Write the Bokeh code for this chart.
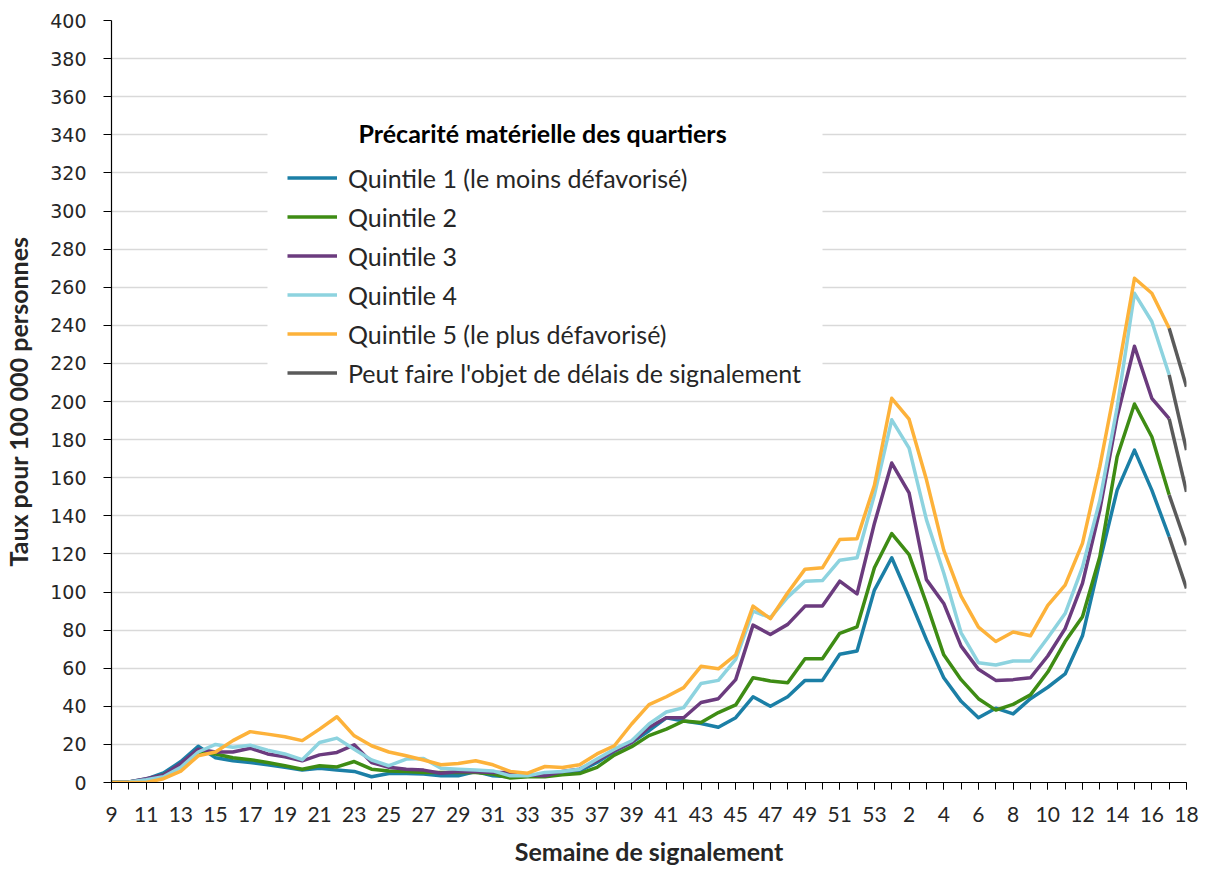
from bokeh.plotting import figure
from bokeh.models import Range1d, FixedTicker, Legend, LegendItem, Label, BoxAnnotation
from bokeh.embed import file_html
from bokeh.resources import INLINE

# ---- data -------------------------------------------------------------
weeks = [str(w) for w in range(9, 54)] + [str(w) for w in range(1, 19)]

q1 = [0, 0.3, 1.8, 5, 11, 19, 13, 11.4, 10.5, 9.3, 8, 6.5, 7.5, 6.5, 5.8, 3,
      4.7, 4.7, 4.4, 3.5, 3.5, 5.8, 3.5, 3, 3.5, 4, 4.9, 6.1, 10.5, 16.3, 21,
      27.2, 34, 32.3, 31, 29, 34, 45, 40, 45, 53.6, 53.6, 67.3, 69, 101,
      118, 97, 75, 55, 42.6, 34, 39, 36, 44, 50, 57, 77, 116, 153.5, 174.5,
      153.5, 129, 101.9]
q2 = [0, 0.3, 1.5, 4, 9, 16, 15, 13, 12, 10.5, 8.8, 7, 8.8, 8.2, 11, 7,
      6, 5.8, 5.3, 5.3, 5.3, 5.3, 4.4, 2.3, 3, 3, 4, 4.7, 7.9, 14.4, 18.8,
      24.6, 28, 32.3, 31.5, 36.7, 40.7, 55, 53.3, 52.4, 65, 65, 78.3, 81.7,
      112.7, 130.7, 119.6, 94, 67, 54, 44, 38, 41, 46, 58, 74, 87, 118.5,
      171, 198.7, 181.5, 151, 124.6]
q3 = [0, 0.3, 2, 4, 10, 17.5, 16, 16, 18, 15, 13.5, 11.4, 14.5, 15.8, 19.8,
      10.5, 8, 7, 6.5, 4.9, 5.8, 5.6, 5.3, 5.3, 3.9, 3.5, 5.8, 7, 11.4, 16.7,
      21, 29, 34, 34, 42, 44, 54, 82.6, 77.7, 83, 92.6, 92.6, 105.7, 99, 136,
      167.7, 152, 106.5, 94, 71.6, 59.4, 53.6, 54, 55, 66.4, 80.8, 104.5,
      143, 192, 229, 201.7, 191, 152.6]
q4 = [0, 0.3, 1.5, 3, 8, 16, 20, 18.5, 19.6, 17, 15, 12, 21, 23.3, 17.5,
      11.8, 8.8, 12.3, 12.6, 7.5, 7, 6.5, 6.1, 3.5, 3.5, 5.3, 5.8, 7, 12.3,
      17.5, 21.9, 30.7, 37, 39.3, 52, 53.6, 64.6, 90, 86.5, 97.3, 105.7, 106,
      116.7, 118, 151, 190.4, 175.5, 138, 110, 78.6, 62.9, 61.7, 63.8, 63.8,
      76, 88.7, 113, 148, 197, 256.8, 242, 214, 174.5]
q5 = [0, 0, 0, 2, 6, 14, 16, 22, 26.7, 25.4, 24, 22, 28, 34.5, 24.5, 19.3,
      16, 14, 11.8, 9.3, 10, 11.4, 9.3, 5.8, 4.9, 8.4, 7.9, 9.3, 15, 19.3,
      30.7, 40.9, 45, 49.8, 61, 59.7, 67, 92.6, 86, 99.6, 112, 112.7, 127.5,
      128, 156, 201.7, 190.7, 159, 122, 97.8, 81.6, 74, 79, 77, 93, 103.6,
      125.5, 165.8, 213, 264.7, 256.8, 238.5, 207.8]

series_names = ["Quintile 1 (le moins défavorisé)", "Quintile 2", "Quintile 3",
                "Quintile 4", "Quintile 5 (le plus défavorisé)"]
delay_name = "Peut faire l'objet de délais de signalement"
legend_title = "Précarité matérielle des quartiers"
x_title = "Semaine de signalement"
y_title = "Taux pour 100 000 personnes"
y_ticks = list(range(0, 401, 20))

# ---- styles -----------------------------------------------------------
colors = ["#1B7FA6", "#3E8C14", "#6B3B7E", "#8DD3DF", "#FDB23A"]
grey = "#5A5A5A"
TXT = "#262626"
LBL = "Lato"

W, H = 1206, 870
BL, BR, BT, BB = 109, 20, 20, 88

x = list(range(len(weeks)))
last = len(weeks) - 2  # index of week 17 (last solid point)

p = figure(width=W, height=H,
           x_range=Range1d(0, len(weeks) - 1), y_range=Range1d(0, 400),
           output_backend="svg", toolbar_location=None,
           min_border_left=BL, min_border_right=BR,
           min_border_top=BT, min_border_bottom=BB)
p.outline_line_color = None
p.background_fill_color = "white"
p.border_fill_color = "white"

# grid
p.xgrid.visible = False
p.ygrid.grid_line_color = "#D9D9D9"
p.ygrid.grid_line_width = 1.5

# y axis
p.yaxis.ticker = FixedTicker(ticks=y_ticks)
p.yaxis.axis_line_color = "#000000"
p.yaxis.axis_line_width = 1.2
p.yaxis.major_tick_line_color = "#000000"
p.yaxis.major_tick_out = 8
p.yaxis.major_tick_in = 0
p.yaxis.minor_tick_line_color = None
p.yaxis.major_label_standoff = 17
p.yaxis.major_label_text_font = "DejaVu Sans"
p.yaxis.major_label_text_font_size = "19px"
p.yaxis.major_label_text_color = TXT
p.yaxis.axis_label = y_title
p.yaxis.axis_label_text_font = LBL
p.yaxis.axis_label_text_font_style = "bold"
p.yaxis.axis_label_text_font_size = "25px"
p.yaxis.axis_label_text_color = TXT
p.yaxis.axis_label_standoff = 14

# x axis
p.xaxis.ticker = FixedTicker(ticks=x[::2], minor_ticks=x)
p.xaxis.major_label_overrides = {i: weeks[i] for i in x[::2]}
p.xaxis.axis_line_color = "#000000"
p.xaxis.axis_line_width = 1.2
p.xaxis.major_tick_line_color = "#000000"
p.xaxis.minor_tick_line_color = "#000000"
p.xaxis.major_tick_out = 7
p.xaxis.major_tick_in = 0
p.xaxis.minor_tick_out = 7
p.xaxis.minor_tick_in = 0
p.xaxis.major_label_standoff = 17
p.xaxis.major_label_text_font = LBL
p.xaxis.major_label_text_font_size = "21px"
p.xaxis.major_label_text_color = TXT
p.xaxis.axis_label = x_title
p.xaxis.axis_label_text_font = LBL
p.xaxis.axis_label_text_font_style = "bold"
p.xaxis.axis_label_text_font_size = "25px"
p.xaxis.axis_label_text_color = TXT
p.xaxis.axis_label_standoff = 11

# lines
renderers = []
all_series = [q1, q2, q3, q4, q5]
for ys, c in zip(all_series, colors):
    r = p.line(x[:last + 1], ys[:last + 1], line_color=c, line_width=3.5,
               line_join="round")
    renderers.append(r)

grey_r = p.multi_line(xs=[x[last:] for _ in all_series],
                      ys=[ys[last:] for ys in all_series],
                      line_color=grey, line_width=3.5)

# white panel behind the legend
box = BoxAnnotation(left=156, right=711, top=669, bottom=389,
                    left_units="screen", right_units="screen",
                    top_units="screen", bottom_units="screen",
                    fill_color="white", fill_alpha=1.0, line_color=None)
p.add_layout(box)

items = [LegendItem(label=n, renderers=[r]) for n, r in zip(series_names, renderers)]
items.append(LegendItem(label=delay_name, renderers=[grey_r]))
legend = Legend(items=items, location=(176, 394), padding=0, margin=0,
                spacing=8, glyph_width=50, glyph_height=31, label_height=31,
                label_standoff=11, label_text_font=LBL,
                label_text_font_size="25px", label_text_color=TXT,
                border_line_color=None, background_fill_alpha=0)
p.add_layout(legend)

title = Label(x=247, y=650, x_units="screen", y_units="screen",
              text=legend_title, text_font=LBL, text_font_style="bold",
              text_font_size="25px", text_color="#000000",
              text_baseline="middle", text_align="left")
p.add_layout(title)

open("out.html", "w").write(file_html(p, INLINE))
